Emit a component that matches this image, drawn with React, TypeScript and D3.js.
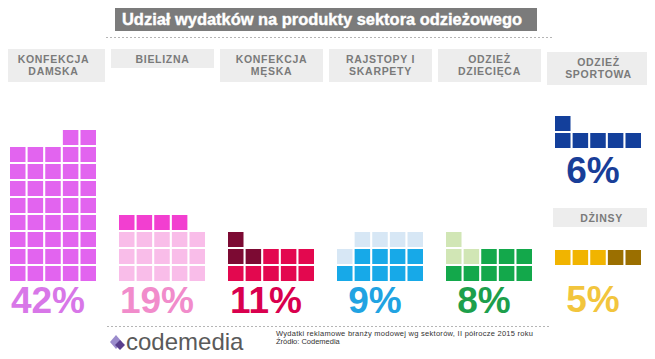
import * as React from "react";
import * as d3 from "d3";

// values (1 square = 1%)
const categories = ["KONFEKCJA|DAMSKA", "BIELIZNA", "KONFEKCJA|MĘSKA", "RAJSTOPY I|SKARPETY", "ODZIEŻ|DZIECIĘCA", "ODZIEŻ|SPORTOWA", "DŻINSY"];
const percents = [42, 19, 11, 9, 8, 6, 5];
// square layout per category, top row first: A = main colour, B = accent, L = pale filler
const patterns = [
    ["...AA", "AAAAA", "AAAAA", "AAAAA", "AAAAA", "AAAAA", "AAAAA", "AAAAA", "AAAAA"],
    ["BBBB.", "AAAAA", "AAAAA", "AAAAA"],
    ["B....", "BBAAA", "AAAAA"],
    [".LLLL", "LAAAA", "AAAAA"],
    ["L....", "LLAAA", "AAAAA"],
    ["A....", "AAAAA"],
    ["AAABB"],
];
const palettes: { [k: string]: string }[] = [
    { A: "#e264ef" },
    { A: "#f9bde9", B: "#f23fd0" },
    { A: "#e3084f", B: "#7c0a33" },
    { A: "#17a9e8", L: "#d7e7f5" },
    { A: "#13a84b", L: "#d1e6b5" },
    { A: "#133f9b" },
    { A: "#f1b400", B: "#9b6f00" },
];
const textColors = ["#d877e8", "#f18ccb", "#d9004e", "#21a3e2", "#1d9f4c", "#193e98", "#f2c53d"];
const slots = [0, 1, 2, 3, 4, 5, 5];
const title = "Udział wydatków na produkty sektora odzieżowego";
const notes = ["Wydatki reklamowe branży modowej wg sektorów, II półrocze 2015 roku", "Źródło: Codemedia"];

const W = 655, H = 359;
const FONT = "'Liberation Sans', Arial, sans-serif";

export default function App() {
    const x = d3.scaleBand<number>().domain(d3.range(6)).range([2, 2 + 6 * 109]);
    const col = d3.scaleBand<number>().domain(d3.range(5)).range([0, 86]).paddingInner(0.12);
    const pitch = 17;
    const bottoms = [281, 281, 281, 281, 281, 148, 265];
    const labelTop = [49, 49, 49, 49, 49, 52, 208];
    const pctBase = [313, 313, 313, 313, 313, 183, 312];

    return (
        <div style={{ margin: -8 }}>
            <svg width={W} height={H} style={{ display: "block", background: "#fff" }} fontFamily={FONT}>
                {/* title */}
                <rect x={115} y={7} width={422} height={24} fill="#7b7b7b" />
                <text x={122} y={25} fill="#fff" fontWeight="bold" fontSize={16} stroke="#fff" strokeWidth={0.4}
                    textLength={400} lengthAdjust="spacingAndGlyphs">{title}</text>
                <line x1={106} x2={552} y1={37.5} y2={37.5} stroke="#b5b5b5" strokeDasharray="2,2" />

                {categories.map((c, i) => {
                    const lines = c.split("|");
                    const x0 = x(slots[i])! + 8;
                    const bx = i === 6 ? x(5)! + 6 : x(slots[i])!;
                    const bw = i === 6 ? 97 : 103;
                    const bh = lines.length > 1 ? 33 : 19;
                    const rows = patterns[i];
                    const y = d3.scaleLinear().domain([0, 1]).range([bottoms[i] - 15, bottoms[i] - 15 - pitch]);
                    const n = rows.length;
                    return (
                        <g key={c}>
                            <rect x={bx} y={labelTop[i]} width={bw} height={bh} fill="#ededed" />
                            {lines.map((l, j) => (
                                <text key={l} x={bx + bw / 2} y={labelTop[i] + 14 + j * 12} textAnchor="middle"
                                    fill="#7a7a7a" fontWeight="bold" fontSize={10.5} letterSpacing={0.7}>{l}</text>
                            ))}
                            {rows.map((r, ri) => r.split("").map((k, ci) => k === "." ? null : (
                                <rect key={ri + "-" + ci} x={x0 + col(ci)!} y={y(n - 1 - ri)}
                                    width={col.bandwidth()} height={15} fill={palettes[i][k]} />
                            )))}
                            <text x={x0 + 38} y={pctBase[i]} textAnchor="middle" fill={textColors[i]}
                                fontWeight="bold" fontSize={37}>{percents[i] + "%"}</text>
                        </g>
                    );
                })}

                {/* footer */}
                <line x1={107} x2={551} y1={326.5} y2={326.5} stroke="#b5b5b5" strokeDasharray="2,2" />
                <polygon points="110,342 116,335 122,342 116,349" fill="#9b8ccc" />
                <polygon points="115,345 120,340 125,345 120,350" fill="#5a3f8e" />
                <text x={126} y={350} fill="#5a5a5a" fontSize={24}>codemedia</text>
                {notes.map((t, i) => (
                    <text key={t} x={276} y={336 + i * 8} fill="#333" fontSize={7.5}
                        textLength={i === 0 ? 257 : undefined}>{t}</text>
                ))}
            </svg>
        </div>
    );
}
